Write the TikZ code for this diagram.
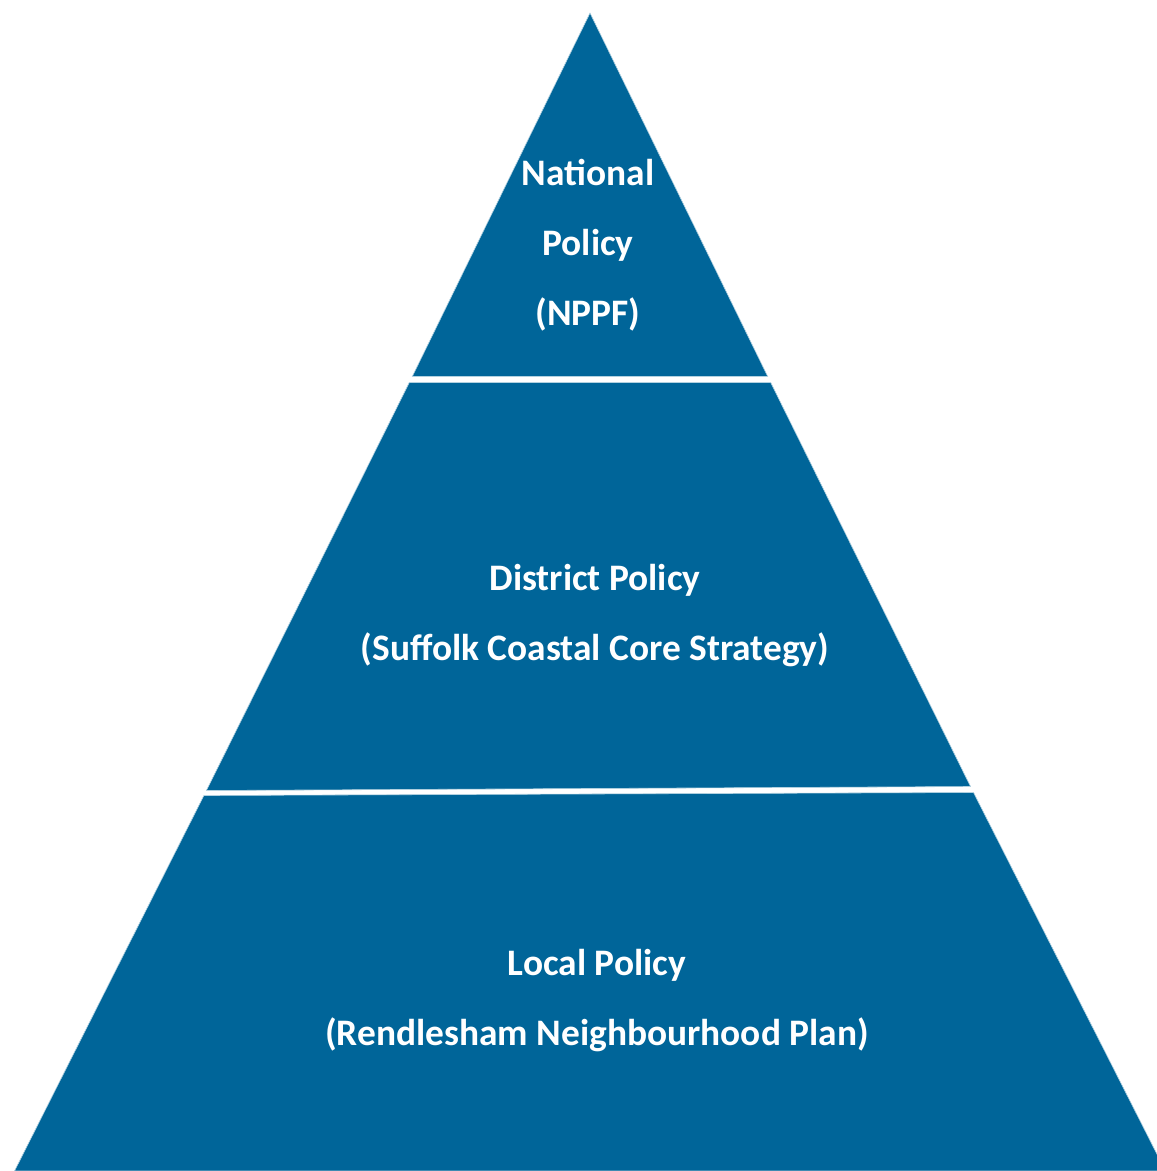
\documentclass[tikz,border=0pt]{standalone}
\usepackage{fontspec}
\setmainfont{Carlito}
\definecolor{tierblue}{RGB}{0,101,153}
\begin{document}
\begin{tikzpicture}[x=1pt,y=-1pt,
  tier/.style={fill=tierblue, draw=tierblue!30, line width=0.6pt, line join=miter},
  lbl/.style={text=white, font=\fontsize{37.4}{44}\selectfont\bfseries, anchor=base, inner sep=0pt}]
\useasboundingbox (0,0) rectangle (1157,1171);
% tiers (apex at (590,13), sides slope 0.497)
\path[tier] (590,13) -- (767.7,376.5) -- (412.3,376.5) -- cycle;
\path[tier] (409.3,382.5) -- (770.7,382.5) -- (970.5,786.5) -- (206.4,790.5) -- cycle;
\path[tier] (203.9,795.5) -- (973.5,792.5) -- (1165.5,1171) -- (14.5,1171) -- cycle;
% labels
\node[lbl] (nat1) at (588,185.5) {National};
\node[lbl] (nat2) at (588,255.5) {Policy};
\node[lbl] (nat3) at (588,325.5) {(NPPF)};
\node[lbl] (dis1) at (595,590.5) {District Policy};
\node[lbl] (dis2) at (595,660.5) {(Suffolk Coastal Core Strategy)};
\node[lbl] (loc1) at (597,975.5) {Local Policy};
\node[lbl] (loc2) at (597,1045.5) {(Rendlesham Neighbourhood Plan)};
\end{tikzpicture}
\end{document}
